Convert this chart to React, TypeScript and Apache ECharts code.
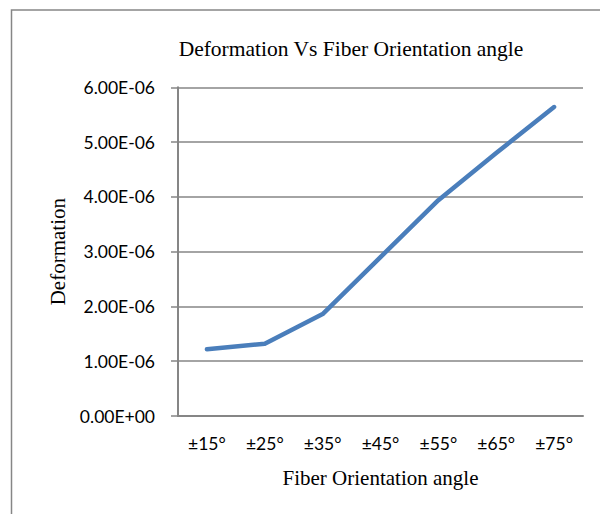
import React, { useEffect, useRef } from "react";
import * as echarts from "echarts";

const categories = ["±15°", "±25°", "±35°", "±45°", "±55°", "±65°", "±75°"];
const deformation = [1.22e-6, 1.32e-6, 1.86e-6, 2.9e-6, 3.94e-6, 4.8e-6, 5.64e-6];
const yTickLabels = ["0.00E+00", "1.00E-06", "2.00E-06", "3.00E-06", "4.00E-06", "5.00E-06", "6.00E-06"];
const titleText = "Deformation Vs Fiber Orientation angle";
const xTitle = "Fiber Orientation angle";
const yTitle = "Deformation";

export default function App() {
  const ref = useRef<HTMLDivElement>(null);
  useEffect(() => {
    if (!ref.current) return;
    const chart = echarts.init(ref.current, null, { renderer: "svg" });
    const gray = "#868686";
    chart.setOption({
      animation: false,
      backgroundColor: "#ffffff",
      graphic: [
        {
          type: "rect",
          shape: { x: 11.5, y: 10, width: 640, height: 540 },
          style: { fill: "none", stroke: gray, lineWidth: 1.5 },
          silent: true,
        },
      ],
      title: {
        text: titleText,
        left: 346,
        top: 33,
        textAlign: "center",
        textStyle: {
          fontFamily: "Liberation Serif",
          fontWeight: "normal",
          fontSize: 21.5,
          color: "#000",
        },
      },
      grid: { left: 178, right: 17, top: 87.3, bottom: 98, containLabel: false },
      xAxis: {
        type: "category",
        data: categories,
        boundaryGap: true,
        name: xTitle,
        nameLocation: "middle",
        nameGap: 51,
        nameTextStyle: { fontFamily: "Liberation Serif", fontSize: 21, color: "#000" },
        axisLine: { show: true, lineStyle: { color: gray, width: 2 } },
        axisTick: { show: false },
        axisLabel: { margin: 18, fontFamily: "Lato", fontSize: 17.5, color: "#000" },
      },
      yAxis: {
        type: "value",
        min: 0,
        max: 6e-6,
        interval: 1e-6,
        name: yTitle,
        nameLocation: "middle",
        nameGap: 110,
        nameRotate: 90,
        nameTextStyle: { fontFamily: "Liberation Serif", fontSize: 21, color: "#000" },
        axisLine: { show: true, lineStyle: { color: gray, width: 2 } },
        axisTick: { show: true, length: 7, lineStyle: { color: gray, width: 1.5 } },
        splitLine: { show: true, lineStyle: { color: gray, width: 1.5 } },
        axisLabel: {
          margin: 23,
          fontFamily: "Lato",
          fontSize: 17.5,
          color: "#000",
          formatter: (v: number) => yTickLabels[Math.round(v / 1e-6)] ?? "",
        },
      },
      series: [
        {
          type: "line",
          data: deformation,
          showSymbol: false,
          symbol: "none",
          lineStyle: { color: "#4a7ebb", width: 4.5, cap: "round", join: "round" },
        },
      ],
    });
    return () => chart.dispose();
  }, []);
  return (
    <div
      ref={ref}
      style={{ position: "fixed", left: 0, top: 0, width: 600, height: 514 }}
    />
  );
}
